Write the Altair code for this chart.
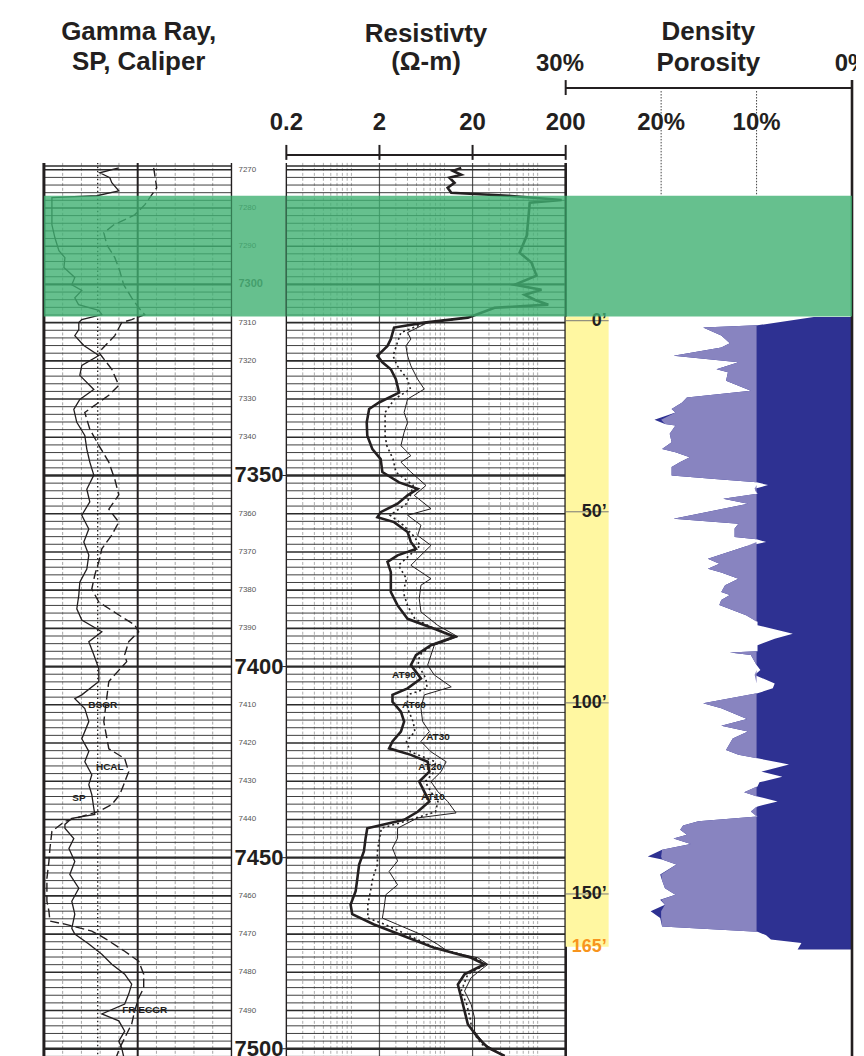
import altair as alt
import pandas as pd

FONT = "Liberation Sans"
INK = "#231F20"
GREEN = "#40B072"
NAVY = "#2E3192"
PURPLE = "#8884C0"
YELLOW = "#FFF7A1"
ORANGE = "#F7941D"

DEPTH_TOP, DEPTH_BOT = 7268.2, 7502.1
GREEN_TOP, GREEN_BOT = 7276.8, 7308.4
YELLOW_BOT = 7473.3
H = 896

# ---------------- Gamma-ray track ----------------
gr_depth = [7269.5, 7270.8, 7272.1, 7273.4, 7275.5, 7276.8, 7277.3, 7278.1, 7284.4, 7287.8,
            7291.2, 7293.0, 7295.6, 7298.2, 7300.1, 7301.6, 7303.5, 7305.3, 7306.8, 7307.9,
            7309.2, 7310.0, 7311.8, 7313.4, 7316.0, 7318.6, 7321.2, 7323.8, 7327.5, 7330.1,
            7332.7, 7336.1, 7339.5, 7343.1, 7346.5, 7349.9, 7353.6, 7356.9, 7360.4, 7364.0,
            7367.4, 7370.8, 7374.5, 7377.9, 7381.3, 7384.9, 7387.8, 7390.9, 7393.5, 7396.9,
            7400.6, 7403.9, 7407.4, 7408.4, 7411.0, 7414.4, 7418.9, 7422.2, 7424.9, 7428.3,
            7430.9, 7433.5, 7437.1, 7438.7, 7439.7, 7441.3, 7442.3, 7445.0, 7447.6, 7451.0,
            7454.4, 7458.0, 7461.4, 7464.8, 7468.5, 7470.0, 7472.6, 7475.3, 7477.9, 7480.5,
            7483.1, 7485.7, 7488.3, 7490.9, 7492.7, 7495.4, 7498.0, 7499.8, 7502.1]
gr_api = [59.9, 44.7, 52.7, 54.3, 59.9, 42.3, 6.4, 6.4, 6.4, 8.8,
          12.0, 16.8, 16.0, 24.7, 22.3, 30.3, 24.7, 27.7, 43.9, 46.3,
          30.3, 27.9, 27.9, 24.7, 31.9, 43.9, 30.3, 28.7, 39.9, 28.7,
          23.9, 26.3, 32.7, 34.3, 36.7, 39.9, 34.3, 36.7, 30.3, 35.9,
          31.9, 35.9, 34.3, 28.7, 27.9, 26.3, 30.3, 46.3, 35.9, 39.9,
          43.9, 43.9, 30.3, 24.7, 32.7, 35.9, 30.3, 35.9, 32.7, 38.3,
          35.9, 38.3, 39.9, 40.7, 22.3, 16.8, 16.8, 23.9, 20.0, 24.7,
          20.7, 27.9, 22.3, 24.7, 22.3, 24.7, 35.9, 46.3, 54.3, 64.6,
          70.2, 67.8, 64.6, 46.3, 59.9, 64.6, 59.9, 62.2, 63.8]

cal_depth = [7269.5, 7274.7, 7276.6, 7279.2, 7281.8, 7284.4, 7286.5, 7289.6, 7293.0, 7296.4,
             7300.1, 7303.5, 7306.1, 7307.9, 7309.2, 7310.0, 7313.4, 7317.8, 7322.2, 7326.4,
             7329.0, 7333.5, 7337.9, 7342.1, 7346.5, 7351.0, 7355.1, 7358.8, 7362.2, 7365.6,
             7369.2, 7372.6, 7376.0, 7379.7, 7383.1, 7386.5, 7389.1, 7390.9, 7393.5, 7396.9,
             7398.7, 7403.9, 7414.4, 7421.5, 7424.1, 7427.5, 7430.9, 7433.5, 7436.1, 7437.9,
             7439.2, 7440.5, 7443.1, 7447.6, 7451.0, 7455.4, 7461.4, 7464.0, 7466.6, 7467.4,
             7469.2, 7471.1, 7474.5, 7477.1, 7480.5, 7484.1, 7486.7, 7490.1, 7493.5, 7497.2,
             7499.8, 7502.1]
cal_val = [87.8, 90.2, 86.2, 80.6, 72.6, 55.9, 47.9, 50.3, 56.7, 60.6,
           63.8, 70.2, 75.8, 80.6, 70.2, 62.2, 56.7, 43.9, 54.3, 59.9,
           51.9, 32.7, 36.7, 43.9, 51.9, 56.7, 59.9, 51.9, 59.9, 54.3,
           46.3, 43.9, 40.7, 38.3, 43.9, 59.9, 72.6, 75.8, 67.8, 64.6,
           66.2, 51.9, 47.9, 51.9, 64.6, 67.8, 63.8, 60.6, 54.3, 43.9,
           30.3, 16.8, 6.4, 4.8, 4.0, 2.4, 2.4, 4.0, 4.8, 16.8,
           38.3, 48.7, 64.6, 75.8, 79.8, 79.8, 75.8, 72.6, 70.2, 64.6,
           60.6, 58.0]

gr_curve_labels = ["BSGR", "HCAL", "SP", "FR ECGR"]
gr_curve_label_x = [47.0, 52.7, 28.0, 80.6]
gr_curve_label_depth = [7410.0, 7426.4, 7434.5, 7489.9]

gr_grid = [15, 30, 45, 60, 90, 105, 120, 135]
gr_borders = [0, 75, 150]
gr_border_w = [3.0, 2.0, 1.4]
sp_baseline = [43]

# ---------------- Resistivity track ----------------
deep_depth = [7269.5, 7270.3, 7271.3, 7272.1, 7273.4, 7274.7, 7276.0, 7276.8, 7277.9, 7278.6,
              7283.1, 7287.3, 7291.7, 7294.3, 7297.7, 7300.1, 7301.4, 7302.7, 7304.0, 7305.3,
              7306.1, 7308.7, 7310.0, 7311.3, 7314.3, 7316.1, 7318.7, 7320.4, 7322.2, 7324.8,
              7328.3, 7330.9, 7332.6, 7336.1, 7339.6, 7343.1, 7345.7, 7349.1, 7351.8, 7353.5,
              7355.2, 7357.4, 7359.6, 7360.9, 7362.2, 7364.8, 7367.4, 7369.2, 7370.9, 7372.6,
              7375.3, 7377.9, 7380.5, 7384.0, 7387.5, 7390.1, 7392.2, 7394.4, 7397.0, 7399.6,
              7403.1, 7405.7, 7407.4, 7409.2, 7411.8, 7414.4, 7417.0, 7419.6, 7421.4, 7423.1,
              7424.9, 7427.5, 7430.1, 7432.7, 7435.3, 7438.0, 7440.1, 7442.3, 7444.9, 7448.4,
              7451.8, 7455.3, 7458.8, 7462.3, 7464.8, 7467.5, 7470.9, 7473.6, 7476.2, 7477.9,
              7480.5, 7483.2, 7486.6, 7490.1, 7493.6, 7497.1, 7499.7, 7501.9]
deep_res = [15.1, 12.3, 15.1, 11.3, 12.8, 10.8, 11.8, 48.1, 181, 82.2,
            79.2, 76.3, 64.1, 85.7, 97.1, 56.6, 110, 72.6, 92.7, 130,
            34.5, 17.8, 6.06, 2.87, 2.65, 2.44, 1.90, 2.15, 2.65, 3.00,
            3.25, 1.98, 1.55, 1.46, 1.48, 1.68, 2.06, 2.15, 3.25, 5.14,
            4.01, 3.13, 2.06, 1.90, 2.87, 4.01, 4.35, 4.93, 3.13, 2.44,
            2.65, 2.65, 2.65, 3.13, 4.01, 7.76, 12.8, 7.15, 4.93, 4.35,
            5.58, 4.01, 2.76, 2.76, 3.40, 3.68, 3.40, 2.76, 2.54, 4.35,
            6.59, 6.87, 5.35, 6.06, 6.87, 5.14, 3.68, 1.48, 1.42, 1.36,
            1.21, 1.16, 1.11, 0.98, 1.02, 1.75, 4.01, 7.76, 19.3, 26.9,
            16.4, 13.9, 15.1, 16.4, 17.8, 22.8, 29.2, 44.2]

med_depth = [7308.7, 7310.0, 7312.6, 7315.4, 7318.7, 7321.3, 7324.8, 7327.4, 7330.0, 7333.5,
             7336.1, 7339.6, 7342.2, 7345.7, 7349.1, 7352.6, 7355.2, 7357.4, 7360.4, 7363.0,
             7365.7, 7368.3, 7370.9, 7373.5, 7377.0, 7380.5, 7384.0, 7387.5, 7390.1, 7392.2,
             7394.4, 7397.0, 7399.6, 7403.1, 7405.7, 7407.4, 7410.9, 7414.4, 7417.0, 7419.6,
             7422.3, 7424.9, 7427.5, 7430.1, 7432.7, 7435.3, 7438.0, 7440.1, 7442.3, 7444.9,
             7448.4, 7451.8, 7455.3, 7458.8, 7462.3, 7465.8, 7467.5, 7470.9, 7473.6, 7476.2,
             7477.9, 7480.5, 7484.9, 7488.4, 7491.9, 7495.4, 7498.8, 7501.9]
med_res = [17.8, 6.3, 3.4, 3.1, 2.8, 3.1, 4.0, 4.3, 2.9, 2.3,
           2.3, 2.3, 2.4, 2.8, 3.0, 4.6, 4.3, 3.9, 2.6, 3.6,
           4.6, 5.5, 4.2, 3.2, 3.9, 3.6, 4.0, 4.8, 7.8, 13.2,
           7.4, 5.4, 5.2, 6.3, 6.5, 4.0, 4.0, 4.6, 4.8, 3.9,
           4.3, 8.0, 7.8, 6.2, 7.1, 8.5, 8.0, 4.3, 2.1, 2.0,
           1.9, 1.9, 1.7, 1.6, 1.5, 1.5, 2.3, 4.6, 8.0, 21.0,
           28.0, 17.8, 15.1, 17.3, 18.8, 19.8, 25.0, 44.2]

shal_depth = [7308.7, 7310.0, 7312.6, 7314.3, 7316.1, 7318.7, 7321.3, 7324.8, 7327.4, 7330.0,
              7333.5, 7336.1, 7338.7, 7342.2, 7344.8, 7346.5, 7349.1, 7352.6, 7355.2, 7358.7,
              7360.4, 7363.0, 7365.7, 7368.3, 7370.0, 7373.5, 7377.0, 7378.7, 7382.2, 7385.7,
              7389.2, 7392.2, 7394.4, 7399.6, 7402.2, 7405.3, 7407.4, 7410.9, 7414.4, 7417.0,
              7419.6, 7422.3, 7424.9, 7427.5, 7430.1, 7432.7, 7435.3, 7438.3, 7439.6, 7442.3,
              7444.9, 7447.5, 7450.9, 7453.6, 7457.1, 7459.7, 7463.2, 7465.8, 7467.5, 7470.1,
              7472.7, 7474.5, 7476.2, 7477.9, 7481.4, 7484.9, 7488.4, 7491.9, 7495.4, 7498.8,
              7501.9]
shal_res = [17.8, 6.59, 4.01, 4.35, 3.85, 4.01, 4.35, 5.14, 6.06, 4.01,
            3.68, 4.01, 3.68, 3.40, 4.35, 3.40, 4.35, 6.32, 4.73, 7.15,
            4.01, 5.58, 5.14, 7.15, 6.06, 4.35, 7.15, 5.58, 5.35, 5.58,
            8.45, 13.9, 7.76, 6.59, 7.76, 11.8, 6.06, 5.58, 5.82, 6.87,
            5.58, 7.15, 10.4, 9.17, 7.15, 8.45, 10.8, 13.3, 5.14, 3.13,
            3.13, 2.76, 3.13, 2.54, 3.13, 2.34, 2.24, 2.15, 3.13, 5.58,
            8.45, 10.8, 22.8, 29.2, 19.3, 16.4, 19.3, 21.0, 21.0, 26.9,
            44.2]

res_labels = ["AT90", "AT60", "AT30", "AT20", "AT10"]
res_label_r = [3.66, 4.69, 8.5, 7.0, 7.5]
res_label_depth = [7402.1, 7410.0, 7418.3, 7426.2, 7434.0]

res_ticks = [0.2, 2, 20, 200]
res_tick_labels = ["0.2", "2", "20", "200"]
res_grid_light = [0.3, 0.4, 0.5, 0.6, 0.7, 0.8, 0.9, 1, 3, 4, 5, 6, 7, 8, 9, 10,
                  30, 40, 50, 60, 70, 80, 90, 100]
res_grid_dark = [2, 20]

# ---------------- Density porosity track ----------------
por_depth = [7308.5, 7310.7, 7311.3, 7313.4, 7315.4, 7316.5, 7318.7, 7320.4, 7322.2, 7323.0,
             7325.2, 7327.8, 7329.6, 7330.9, 7332.6, 7333.5, 7335.4, 7336.5, 7336.9, 7339.1,
             7341.3, 7343.1, 7343.9, 7345.2, 7346.5, 7347.8, 7350.0, 7350.9, 7351.8, 7352.5,
             7353.5, 7354.8, 7356.1, 7357.4, 7361.3, 7362.6, 7363.9, 7366.1, 7366.7, 7367.4,
             7368.5, 7371.8, 7373.1, 7374.4, 7375.4, 7377.0, 7378.7, 7380.5, 7381.3, 7382.6,
             7383.9, 7386.6, 7388.3, 7389.2, 7391.4, 7392.7, 7394.4, 7396.0, 7396.3, 7397.0,
             7399.6, 7400.9, 7402.2, 7404.4, 7405.7, 7407.0, 7409.6, 7410.9, 7413.7, 7415.5,
             7417.0, 7418.8, 7421.8, 7423.1, 7424.0, 7425.6, 7427.5, 7428.8, 7430.3, 7431.4,
             7432.9, 7434.0, 7435.3, 7436.6, 7437.9, 7439.2, 7440.5, 7441.6, 7442.7, 7444.0,
             7445.0, 7446.4, 7447.9, 7449.7, 7450.5, 7451.8, 7454.4, 7456.0, 7458.0, 7459.7,
             7461.0, 7462.3, 7464.0, 7465.8, 7468.0, 7469.4, 7470.3, 7471.4, 7472.3, 7474.0]
por_pct = [4.0, 9.9, 15.6, 13.7, 12.8, 13.7, 18.7, 11.9, 14.2, 13.0,
           13.2, 10.6, 17.3, 17.8, 18.9, 18.5, 20.7, 19.6, 18.5, 19.1,
           18.9, 19.9, 18.5, 17.0, 18.0, 18.9, 18.9, 14.4, 10.0, 8.8,
           10.2, 9.9, 13.5, 10.9, 18.7, 11.9, 12.3, 12.3, 10.0, 9.0,
           11.1, 15.1, 13.9, 15.1, 13.7, 11.9, 13.3, 13.7, 12.8, 13.7,
           13.9, 11.1, 9.9, 9.9, 6.2, 8.1, 9.9, 9.9, 12.8, 10.6,
           10.0, 9.6, 10.2, 8.1, 8.3, 9.9, 15.6, 13.7, 11.0, 13.7,
           10.9, 12.5, 13.2, 11.9, 9.9, 6.6, 9.5, 7.3, 9.7, 9.9,
           11.3, 9.9, 7.8, 9.9, 10.6, 9.9, 16.1, 17.7, 18.0, 17.3,
           18.7, 16.9, 19.9, 21.4, 19.9, 18.4, 20.1, 19.9, 19.6, 18.5,
           20.1, 19.6, 21.1, 20.1, 19.9, 9.9, 9.0, 8.5, 5.3, 5.7]

por_inner_ticks = [20, 10]
por_inner_labels = ["20%", "10%"]

ft_labels = ["0\u2019", "50\u2019", "100\u2019", "150\u2019"]
ft_depths = [7309.5, 7359.5, 7409.5, 7459.5]
ft_end_label = "165\u2019"
ft_end_depth = 7473.3

# ---------------- depth labels ----------------
depth_small = [7270, 7280, 7290, 7310, 7320, 7330, 7340, 7360, 7370, 7380, 7390,
               7410, 7420, 7430, 7440, 7460, 7470, 7480, 7490]
depth_medium = [7300]
depth_big = [7350, 7400, 7450, 7500]

grid_depths = [7269] + list(range(7270, 7503, 2))
grid_w = [1.4 if d == 7269 else (2.4 if d % 50 == 0 else (1.6 if d % 10 == 0 else 0.9)) for d in grid_depths]

# ================================================================
Y = alt.Scale(domain=[DEPTH_TOP, DEPTH_BOT], reverse=True, nice=False, zero=False)


def ydepth(field="depth"):
    return alt.Y(f"{field}:Q", scale=Y, axis=None)


def txt(t, x, y, size, align="center", color=INK, weight="bold"):
    return alt.Chart(pd.DataFrame({"t": [t]})).mark_text(
        font=FONT, fontSize=size, fontWeight=weight, color=color, align=align,
        baseline="alphabetic"
    ).encode(text="t:N", x=alt.value(x), y=alt.value(y))


grid_df = pd.DataFrame({"depth": grid_depths, "w": grid_w})


def hgrid():
    return alt.Chart(grid_df).mark_rule(color="#2b2b2b").encode(
        y=ydepth(), strokeWidth=alt.StrokeWidth("w:Q", scale=None, legend=None))


def green(xscale, x0, x1):
    df = pd.DataFrame({"a": [GREEN_TOP], "b": [GREEN_BOT], "x0": [x0], "x1": [x1]})
    return alt.Chart(df).mark_rect(color=GREEN, opacity=0.8).encode(
        y=ydepth("a"), y2="b:Q",
        x=alt.X("x0:Q", scale=xscale, axis=None), x2="x1:Q")


def scale_bar(xscale, lo, hi, ticks, labels, label_pos, line_y, tick_y0, tick_y1, label_y):
    """Scale bar above a track: line, ticks and labels placed through the x scale."""
    line = alt.Chart(pd.DataFrame({"x0": [lo], "x1": [hi]})).mark_rule(
        color=INK, strokeWidth=2
    ).encode(x=alt.X("x0:Q", scale=xscale, axis=None), x2="x1:Q", y=alt.value(line_y))
    tk = alt.Chart(pd.DataFrame({"v": ticks})).mark_rule(color=INK, strokeWidth=2).encode(
        x=alt.X("v:Q", scale=xscale, axis=None), y=alt.value(tick_y0), y2=alt.value(tick_y1))
    lb = alt.Chart(pd.DataFrame({"v": label_pos, "t": labels})).mark_text(
        font=FONT, fontSize=24, fontWeight="bold", color=INK, baseline="alphabetic"
    ).encode(x=alt.X("v:Q", scale=xscale, axis=None), y=alt.value(label_y), text="t:N")
    return [line, tk, lb]


# ---------------- panel 1: GR ----------------
XG = alt.Scale(domain=[0, 150], nice=False, zero=False)
gr_df = pd.DataFrame({"depth": gr_depth, "v": gr_api})
cal_df = pd.DataFrame({"depth": cal_depth, "v": cal_val})

p1 = alt.layer(
    alt.Chart(pd.DataFrame({"v": gr_grid})).mark_rule(
        color="#8f8f8f", strokeWidth=0.8, strokeDash=[3, 2]
    ).encode(x=alt.X("v:Q", scale=XG, axis=None)),
    hgrid(),
    alt.Chart(pd.DataFrame({"v": gr_borders, "w": gr_border_w})).mark_rule(color=INK).encode(
        x=alt.X("v:Q", scale=XG, axis=None),
        strokeWidth=alt.StrokeWidth("w:Q", scale=None, legend=None)),
    alt.Chart(pd.DataFrame({"v": sp_baseline})).mark_rule(
        color=INK, strokeWidth=1.3, strokeDash=[1.5, 2.5]
    ).encode(x=alt.X("v:Q", scale=XG, axis=None)),
    alt.Chart(gr_df).mark_line(color=INK, strokeWidth=1.3, clip=True).encode(
        x=alt.X("v:Q", scale=XG, axis=None), y=ydepth(), order="depth:Q"),
    alt.Chart(cal_df).mark_line(color=INK, strokeWidth=1.4, strokeDash=[9, 4], clip=True).encode(
        x=alt.X("v:Q", scale=XG, axis=None), y=ydepth(), order="depth:Q"),
    alt.Chart(pd.DataFrame({"t": gr_curve_labels, "v": gr_curve_label_x,
                            "depth": gr_curve_label_depth})).mark_text(
        font=FONT, fontSize=10, fontWeight="bold", color=INK
    ).encode(x=alt.X("v:Q", scale=XG, axis=None), y=ydepth(), text="t:N"),
    green(XG, 0, 150),
    txt("Gamma Ray,", 95, -123, 26),
    txt("SP, Caliper", 95, -93, 26),
).properties(width=188, height=H)

# ---------------- panel 2: depth labels ----------------
p2 = alt.layer(
    alt.Chart(pd.DataFrame({"depth": depth_small})).mark_text(
        font=FONT, fontSize=8, color="#555555", align="left", baseline="middle"
    ).encode(y=ydepth(), x=alt.value(7), text=alt.Text("depth:Q", format="d")),
    alt.Chart(pd.DataFrame({"depth": depth_medium})).mark_text(
        font=FONT, fontSize=11, fontWeight="bold", color="#555555", align="left", baseline="middle"
    ).encode(y=ydepth(), x=alt.value(7), text=alt.Text("depth:Q", format="d")),
    alt.Chart(pd.DataFrame({"depth": depth_big})).mark_text(
        font=FONT, fontSize=22, fontWeight="bold", color=INK, align="right", baseline="middle"
    ).encode(y=ydepth(), x=alt.value(52), text=alt.Text("depth:Q", format="d")),
    alt.Chart(pd.DataFrame({"depth": depth_big})).mark_rule(color=INK, strokeWidth=1).encode(
        y=ydepth(), x=alt.value(51), x2=alt.value(57)),
    alt.Chart(pd.DataFrame({"a": [GREEN_TOP], "b": [GREEN_BOT]})).mark_rect(
        color=GREEN, opacity=0.8
    ).encode(y=ydepth("a"), y2="b:Q", x=alt.value(0), x2=alt.value(55)),
).properties(width=55, height=H)

# ---------------- panel 3: resistivity ----------------
XR = alt.Scale(type="log", domain=[0.2, 200], nice=False)
deep_df = pd.DataFrame({"depth": deep_depth, "r": deep_res})
med_df = pd.DataFrame({"depth": med_depth, "r": med_res})
shal_df = pd.DataFrame({"depth": shal_depth, "r": shal_res})

p3 = alt.layer(
    alt.Chart(pd.DataFrame({"v": res_grid_light})).mark_rule(
        color="#9a9a9a", strokeWidth=0.8, strokeDash=[3, 2]
    ).encode(x=alt.X("v:Q", scale=XR, axis=None)),
    alt.Chart(pd.DataFrame({"v": res_grid_dark})).mark_rule(
        color="#555555", strokeWidth=1.2
    ).encode(x=alt.X("v:Q", scale=XR, axis=None)),
    hgrid(),
    alt.Chart(pd.DataFrame({"v": [0.2, 200], "w": [1.4, 2.6]})).mark_rule(color=INK).encode(
        x=alt.X("v:Q", scale=XR, axis=None),
        strokeWidth=alt.StrokeWidth("w:Q", scale=None, legend=None)),
    alt.Chart(shal_df).mark_line(color=INK, strokeWidth=1.0, clip=True).encode(
        x=alt.X("r:Q", scale=XR, axis=None), y=ydepth(), order="depth:Q"),
    alt.Chart(med_df).mark_line(color=INK, strokeWidth=1.6, strokeDash=[2, 3], clip=True).encode(
        x=alt.X("r:Q", scale=XR, axis=None), y=ydepth(), order="depth:Q"),
    alt.Chart(deep_df).mark_line(color=INK, strokeWidth=2.6, clip=True).encode(
        x=alt.X("r:Q", scale=XR, axis=None), y=ydepth(), order="depth:Q"),
    alt.Chart(pd.DataFrame({"t": res_labels, "r": res_label_r, "depth": res_label_depth})).mark_text(
        font=FONT, fontSize=10, fontWeight="bold", color=INK
    ).encode(x=alt.X("r:Q", scale=XR, axis=None), y=ydepth(), text="t:N"),
    green(XR, 0.2, 200),
    *scale_bar(XR, 0.2, 200, res_ticks, res_tick_labels, res_ticks, -8, -18, -3, -33),
    txt("Resistivty", 140, -121, 26),
    txt("(\u03a9-m)", 140, -93, 26),
).properties(width=280, height=H)

# ---------------- panel 4: density porosity ----------------
XP = alt.Scale(domain=[30, 0], nice=False, zero=False)
por_df = pd.DataFrame({"depth": por_depth, "p": por_pct})
ft_df = pd.DataFrame({"depth": ft_depths, "t": ft_labels, "x0": [30] * 4, "x1": [25.5] * 4,
                      "xl": [25.7] * 4})

p4 = alt.layer(
    alt.Chart(por_df).transform_calculate(z="0").mark_area(
        orient="horizontal", color=NAVY, clip=True
    ).encode(y=ydepth(), x=alt.X("p:Q", scale=XP, axis=None), x2="z:Q"),
    alt.Chart(pd.DataFrame({"a": [GREEN_BOT], "b": [YELLOW_BOT], "x0": [30], "x1": [25.5]})).mark_rect(
        color=YELLOW
    ).encode(y=ydepth("a"), y2="b:Q", x=alt.X("x0:Q", scale=XP, axis=None), x2="x1:Q"),
    alt.Chart(por_df).transform_calculate(
        pc="min(max(datum.p, 10), 20)", ten="10"
    ).mark_area(orient="horizontal", color=PURPLE, clip=True).encode(
        y=ydepth(), x=alt.X("pc:Q", scale=XP, axis=None), x2="ten:Q"),
    alt.Chart(ft_df).mark_rule(color="#777777", strokeWidth=1).encode(
        y=ydepth(), x=alt.X("x0:Q", scale=XP, axis=None), x2="x1:Q"),
    alt.Chart(ft_df).mark_text(
        font=FONT, fontSize=18, fontWeight="bold", color=INK, align="right", baseline="middle"
    ).encode(y=ydepth(), x=alt.X("xl:Q", scale=XP, axis=None), text="t:N"),
    alt.Chart(pd.DataFrame({"depth": [ft_end_depth], "t": [ft_end_label], "xl": [25.7]})).mark_text(
        font=FONT, fontSize=18, fontWeight="bold", color=ORANGE, align="right", baseline="middle"
    ).encode(y=ydepth(), x=alt.X("xl:Q", scale=XP, axis=None), text="t:N"),
    alt.Chart(pd.DataFrame({"v": por_inner_ticks})).mark_rule(
        color="#444444", strokeWidth=1, strokeDash=[1.5, 1.5]
    ).encode(x=alt.X("v:Q", scale=XP, axis=None), y=alt.value(-72), y2=alt.value(33)),
    alt.Chart(pd.DataFrame({"v": por_inner_ticks, "t": por_inner_labels})).mark_text(
        font=FONT, fontSize=24, fontWeight="bold", color=INK, baseline="alphabetic"
    ).encode(x=alt.X("v:Q", scale=XP, axis=None), y=alt.value(-33), text="t:N"),
    alt.Chart(pd.DataFrame({"v": [0]})).mark_rule(color=INK, strokeWidth=2.6).encode(
        x=alt.X("v:Q", scale=XP, axis=None), y=alt.value(-83), y2=alt.value(H)),
    green(XP, 30, 0),
    *scale_bar(XP, 30, 0, [30], ["30%"], [30.6], -75, -83, -68, -92),
    alt.Chart(pd.DataFrame({"v": [0], "t": ["0%"]})).mark_text(
        font=FONT, fontSize=24, fontWeight="bold", color=INK, baseline="alphabetic"
    ).encode(x=alt.X("v:Q", scale=XP, axis=None), y=alt.value(-92), text="t:N"),
    txt("Density", 143, -123, 26),
    txt("Porosity", 143, -92, 26),
).properties(width=287, height=H)

chart = alt.hconcat(p1, p2, p3, p4, spacing=0, bounds="flush").properties(
    padding={"left": 34, "top": 10, "right": -14, "bottom": 0}
).configure_view(stroke=None)

chart.save("out.html", embed_options={"renderer": "svg", "actions": False})
